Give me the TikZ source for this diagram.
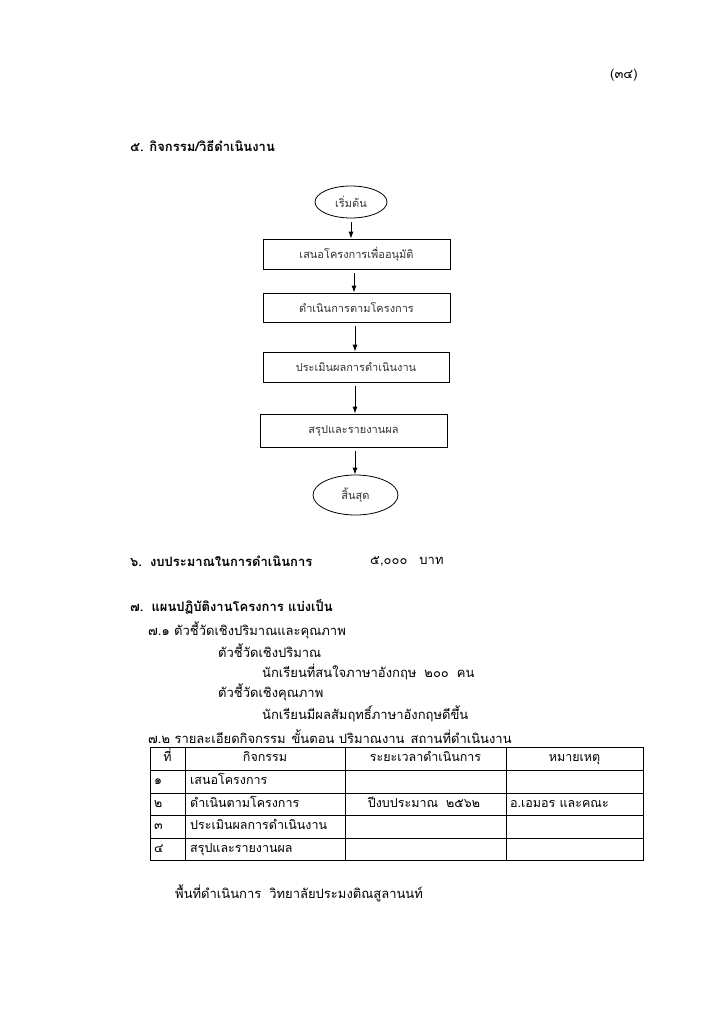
\documentclass[tikz,border=0pt]{standalone}
\usepackage{fontspec}
\setmainfont[Script=Thai]{Loma}
\usetikzlibrary{shapes.geometric,arrows.meta}
\begin{document}
\begin{tikzpicture}[x=1pt,y=-1pt,
  txt/.style={anchor=west,inner sep=0pt,font=\fontsize{13}{15}\selectfont},
  btxt/.style={anchor=west,inner sep=0pt,font=\fontsize{13}{15}\selectfont\bfseries},
  fbox/.style={draw,line width=0.8pt,inner sep=0pt,minimum width=187pt,minimum height=30pt,font=\fontsize{11}{13}\selectfont,text=black!80},
  fterm/.style={ellipse,draw,line width=0.8pt,inner sep=0pt,font=\fontsize{11}{13}\selectfont,text=black!80},
  arr/.style={-{Latex[length=7pt,width=5pt]},line width=0.9pt,shorten <=4pt},
  cell/.style={inner sep=0pt,text height=9pt,text depth=3pt,font=\fontsize{12.5}{14}\selectfont},
  grid/.style={line width=0.7pt}]
\useasboundingbox[fill=white] (0,0) rectangle (725,1024);

\node[txt] (pg) at (610,75) {(๓๔)};
\node[btxt] (h5) at (130,146) {๕. กิจกรรม/วิธีดำเนินงาน};

% flowchart
\node[fterm,minimum width=72pt,minimum height=32pt] (s) at (351,202) {เริ่มต้น};
\node[fbox] (b1) at (356.5,254) {เสนอโครงการเพื่ออนุมัติ};
\node[fbox,minimum height=29pt] (b2) at (356.5,307.5) {ดำเนินการตามโครงการ};
\node[fbox,minimum width=186pt] (b3) at (356,367) {ประเมินผลการดำเนินงาน};
\node[fbox,minimum height=33pt] (b4) at (353.5,430.5) {สรุปและรายงานผล};
\node[fterm,minimum width=85pt,minimum height=40pt] (e) at (355.5,495) {สิ้นสุด};
\draw[arr] (s.south) -- (s.south |- b1.north);
\draw[arr] (b1.south -| 354,0) -- (b2.north -| 354,0);
\draw[arr] (b2.south -| 355,0) -- (b3.north -| 355,0);
\draw[arr] (b3.south -| 355,0) -- (b4.north -| 355,0);
\draw[arr] (b4.south -| 355,0) -- (e.north -| 355,0);

% sections 6, 7
\node[btxt] (h6) at (130,561) {๖.\hspace{8pt}งบประมาณในการดำเนินการ};
\node[txt] (bud) at (370,561) {๕,๐๐๐\hspace{12pt}บาท};
\node[btxt] (h7) at (130,607) {๗.\hspace{8pt}แผนปฏิบัติงานโครงการ แบ่งเป็น};
\node[txt] (s71) at (148,630) {๗.๑ ตัวชี้วัดเชิงปริมาณและคุณภาพ};
\node[txt] (q1) at (218,651) {ตัวชี้วัดเชิงปริมาณ};
\node[txt] (q1a) at (262,672) {นักเรียนที่สนใจภาษาอังกฤษ\hspace{8pt}๒๐๐\hspace{8pt}คน};
\node[txt] (q2) at (218,692) {ตัวชี้วัดเชิงคุณภาพ};
\node[txt] (q2a) at (262,714) {นักเรียนมีผลสัมฤทธิ์ภาษาอังกฤษดีขึ้น};
\node[txt] (s72) at (148,737) {๗.๒ รายละเอียดกิจกรรม\hspace{6pt}ขั้นตอน ปริมาณงาน\hspace{6pt}สถานที่ดำเนินงาน};

% table
\draw[grid] (150,747) rectangle (643,860);
\foreach \yy in {770,793,815,838} \draw[grid] (150,\yy) -- (643,\yy);
\foreach \xx in {185,345,506} \draw[grid] (\xx,747) -- (\xx,860);
\node[cell] (th1) at (167.5,758.5) {ที่};
\node[cell] (th2) at (265,758.5) {กิจกรรม};
\node[cell] (th3) at (425.5,758.5) {ระยะเวลาดำเนินการ};
\node[cell] (th4) at (574.5,758.5) {หมายเหตุ};
\node[cell,anchor=west] (n1) at (154,781.5) {๑};
\node[cell,anchor=west] (a1) at (190,781.5) {เสนอโครงการ};
\node[cell,anchor=west] (n2) at (154,804) {๒};
\node[cell,anchor=west] (a2) at (190,804) {ดำเนินตามโครงการ};
\node[cell] (t2) at (424,804) {ปีงบประมาณ\hspace{8pt}๒๕๖๒};
\node[cell,anchor=west] (r2) at (510,804) {อ.เอมอร และคณะ};
\node[cell,anchor=west] (n3) at (154,826.5) {๓};
\node[cell,anchor=west] (a3) at (190,826.5) {ประเมินผลการดำเนินงาน};
\node[cell,anchor=west] (n4) at (154,849) {๔};
\node[cell,anchor=west] (a4) at (190,849) {สรุปและรายงานผล};

\node[txt] (area) at (175,893) {พื้นที่ดำเนินการ\hspace{8pt}วิทยาลัยประมงติณสูลานนท์};
\end{tikzpicture}
\end{document}
